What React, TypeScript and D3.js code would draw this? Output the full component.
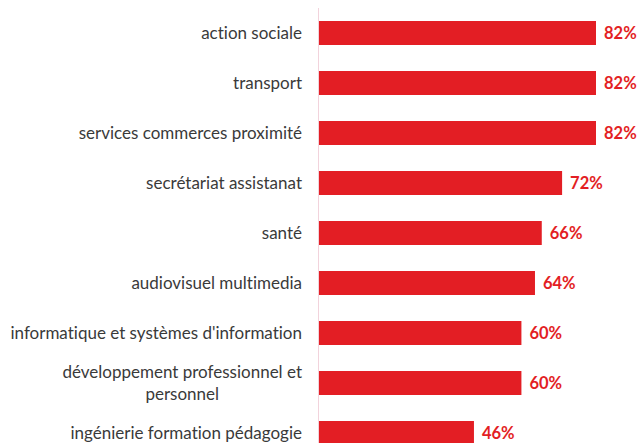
import React, { useEffect, useRef } from "react";
import * as d3 from "d3";

const categories = [
  "action sociale",
  "transport",
  "services commerces proximité",
  "secrétariat assistanat",
  "santé",
  "audiovisuel multimedia",
  "informatique et systèmes d'information",
  "développement professionnel et\npersonnel",
  "ingénierie formation pédagogie",
];
const values = [82, 82, 82, 72, 66, 64, 60, 60, 46];
const valueLabels = ["82%", "82%", "82%", "72%", "66%", "64%", "60%", "60%", "46%"];

const W = 638;
const H = 443;
const RED = "#E31E24";
const FONT = "Lato, 'Open Sans', sans-serif";

export default function App() {
  const ref = useRef<SVGSVGElement>(null);
  useEffect(() => {
    const svg = d3.select(ref.current);
    svg.selectAll("*").remove();
    svg.style("font-variant-ligatures", "none");
    const x0 = 318;
    const x = d3.scaleLinear().domain([0, 82]).range([x0, 596]);
    const y = d3
      .scaleBand<number>()
      .domain(d3.range(categories.length))
      .range([8, 8 + 50 * categories.length])
      .paddingInner(0.52)
      .paddingOuter(0.26);

    svg
      .append("line")
      .attr("x1", x0 + 0.5)
      .attr("x2", x0 + 0.5)
      .attr("y1", 8)
      .attr("y2", H)
      .attr("stroke", "#F2D3DC")
      .attr("stroke-width", 1);

    const g = svg.selectAll("g.row").data(values).enter().append("g");
    g.append("rect")
      .attr("x", x0 + 1)
      .attr("y", (_, i) => y(i)!)
      .attr("width", (d) => x(d) - x0 - 1)
      .attr("height", y.bandwidth())
      .attr("fill", RED);
    g.append("text")
      .attr("x", (d) => x(d) + 8)
      .attr("y", (_, i) => y(i)! + y.bandwidth() / 2)
      .attr("dy", "0.36em")
      .attr("fill", RED)
      .attr("font-weight", "bold")
      .attr("font-size", 16.5)
      .attr("font-family", FONT)
      .text((_, i) => valueLabels[i]);

    const FS = 17;
    categories.forEach((c, i) => {
      const lines = c.split("\n");
      const cy = y(i)! + y.bandwidth() / 2;
      const t = svg
        .append("text")
        .attr("fill", "#3a3a3a")
        .attr("font-size", FS)
        .attr("font-family", FONT);
      if (lines.length === 1) {
        t.attr("x", 302).attr("y", cy).attr("dy", "0.36em").attr("text-anchor", "end").text(c);
      } else {
        const tmp = svg
          .append("text")
          .attr("font-size", FS)
          .attr("font-family", FONT)
          .text(lines[0]);
        const w = (tmp.node() as SVGTextElement).getComputedTextLength();
        tmp.remove();
        const cx = 302 - w / 2;
        lines.forEach((ln, k) => {
          t.append("tspan")
            .attr("x", cx)
            .attr("y", cy + (k - (lines.length - 1) / 2) * 22)
            .attr("dy", "0.36em")
            .attr("text-anchor", "middle")
            .text(ln);
        });
      }
    });
  }, []);
  return (
    <svg
      ref={ref}
      width={W}
      height={H}
      style={{ position: "absolute", left: 0, top: 0, background: "#fff" }}
    />
  );
}
